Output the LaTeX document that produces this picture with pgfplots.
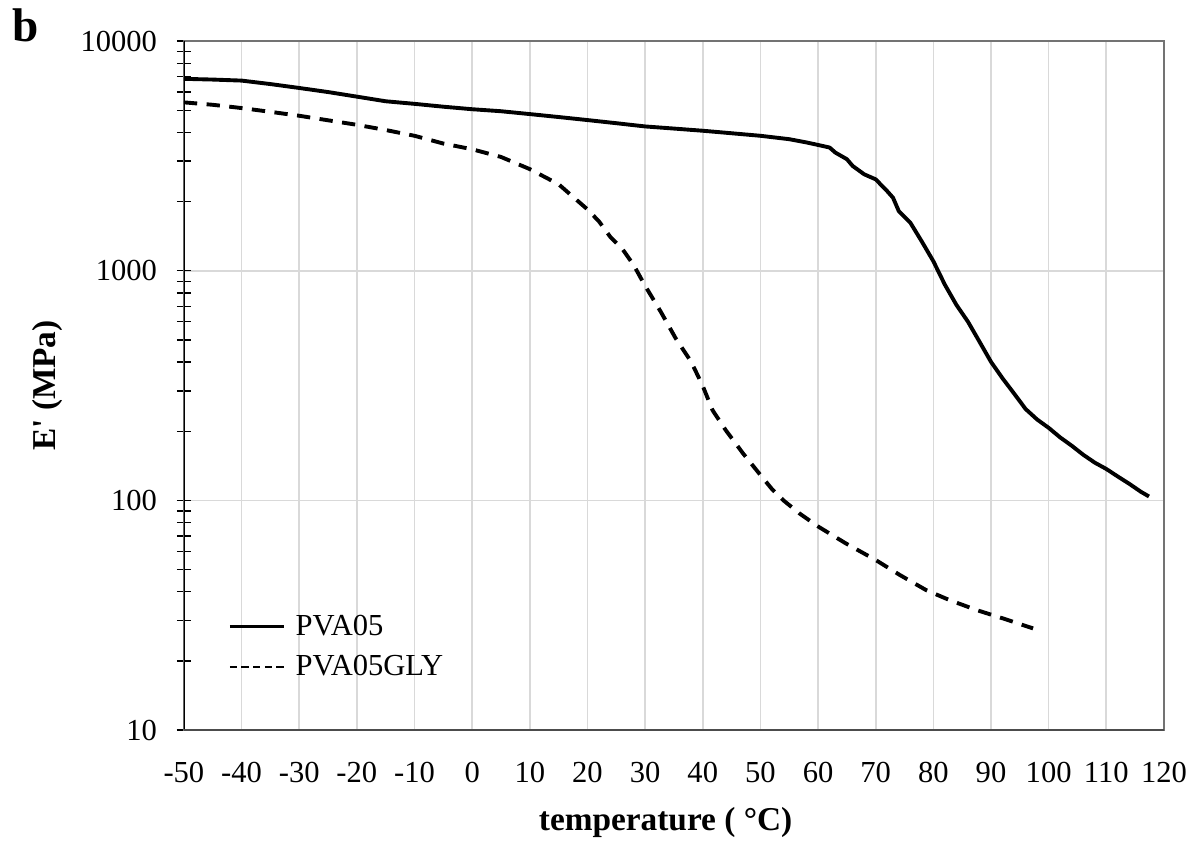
\documentclass[border=0pt]{standalone}
\usepackage{fontspec}
\setmainfont{Liberation Serif}
\newfontfamily\plainserif{Liberation Serif}[Ligatures=TeXOff]
\usepackage{pgfplots}
\pgfplotsset{compat=1.18}

\begin{document}
\begin{tikzpicture}
\begin{axis}[
  name=ax,
  scale only axis,
  width=352.8pt, height=248pt,
  ymode=log,
  xmin=-50, xmax=120,
  ymin=10, ymax=10000,
  xtick={-50,-40,-30,-20,-10,0,10,20,30,40,50,60,70,80,90,100,110,120},
  xticklabels={-50,-40,-30,-20,-10,0,10,20,30,40,50,60,70,80,90,100,110,120},
  ytick={10,100,1000,10000},
  yticklabels={10,100,1000,10000},
  xtick pos=bottom, ytick pos=left,
  x tick style={draw=none},
  y tick style={black, line width=0.5pt},
  tick align=center,
  major tick length=5pt, minor tick length=5pt,
  xmajorgrids=true, ymajorgrids=true,
  grid style={color=black!15, line width=0.6pt},
  axis line style={color=black!55, line width=0.6pt},
  tick label style={font=\fontsize{11}{13}\selectfont},
  xticklabel style={anchor=north, inner sep=0pt, yshift=-9pt},
  yticklabel style={anchor=east, inner sep=0pt, xshift=-7pt},
  every axis x label/.style={at={(rel axis cs:0.5,0)}, anchor=base, yshift=-36pt, xshift=-3pt,
    font=\fontsize{12}{14}\selectfont\bfseries},
  every axis y label/.style={at={(rel axis cs:0,0.5)}, xshift=-49pt, rotate=90, anchor=center,
    font=\fontsize{12}{14}\selectfont\bfseries},
  xlabel={temperature ( °C)},
  ylabel={{\plainserif\bfseries E'} (MPa)},
  legend style={at={(rel axis cs:0.045,0.175)}, anchor=north west, draw=none, fill=none,
    inner sep=0pt, row sep=2.5pt,
    font=\fontsize{11}{13}\selectfont,
    nodes={inner sep=1pt, text height=8pt, text depth=2pt}},
  legend cell align=left,
]
\addlegendimage{legend image code/.code={\draw[black, line width=0.9pt] (0pt,0pt) -- (19.5pt,0pt); \path (22.5pt,0pt);}}
\addlegendentry{PVA05}
\addlegendimage{legend image code/.code={\draw[black, line width=0.9pt, dash pattern=on 2.6pt off 1.6pt] (0pt,0pt) -- (19.5pt,0pt); \path (22.5pt,0pt);}}
\addlegendentry{PVA05GLY}

% PVA05
\addplot[forget plot, black, line width=1.4pt, line join=round] coordinates {
(-50,6850) (-45,6800) (-40,6730) (-35,6500) (-30,6250) (-25,6000) (-20,5730)
(-15,5470) (-10,5330) (-5,5180) (0,5050) (5,4950) (10,4810) (15,4670) (20,4530)
(25,4390) (30,4250) (35,4160) (40,4070) (45,3970) (50,3870) (55,3740) (58,3620)
(60,3530) (62,3440) (63,3270) (65,3060) (66,2860) (68,2630) (70,2500) (72,2220)
(73,2080) (74,1820) (76,1620) (78,1340) (80,1100) (82,869) (84,710) (86,600)
(88,491) (90,401) (92,340) (94,292) (96,250) (98,225) (100,207) (102,188)
(104,173) (106,158) (108,146) (110,137) (112,127) (114,118) (116,109) (117.4,104)
};

% PVA05GLY
\addplot[forget plot, black, line width=1.4pt, dash pattern=on 4.8pt off 3.4pt] coordinates {
(-50,5410) (-45,5280) (-40,5110) (-35,4920) (-30,4730) (-25,4520) (-20,4320)
(-15,4100) (-10,3870) (-5,3580) (0,3380) (5,3130) (10,2770) (15,2380) (20,1850)
(22,1640) (24,1400) (26,1250) (28,1060) (30,860) (32.7,664) (35.3,508) (38,401)
(40,315) (41.7,247) (44,202) (47,160) (50,129) (52,112) (54,100) (56.7,88)
(60,77) (64.8,65) (70,55) (74.2,47.3) (78.8,40.6) (82.8,36.8) (87.5,33.3)
(92.1,30.6) (97.3,27.7)
};

\draw[black, line width=0.6pt] (rel axis cs:0,0) -- (rel axis cs:0,1);
\draw[black!70, line width=0.6pt] (rel axis cs:0,0) -- (rel axis cs:1,0);
\end{axis}
\node[anchor=base west, inner sep=0pt, font=\fontsize{17}{17}\selectfont\bfseries]
  at ([xshift=-61.9pt]ax.north west) {b};
\path ([xshift=-66.2pt,yshift=14.8pt]ax.north west) rectangle ([xshift=13.7pt,yshift=-40.7pt]ax.south east);
\end{tikzpicture}
\end{document}
